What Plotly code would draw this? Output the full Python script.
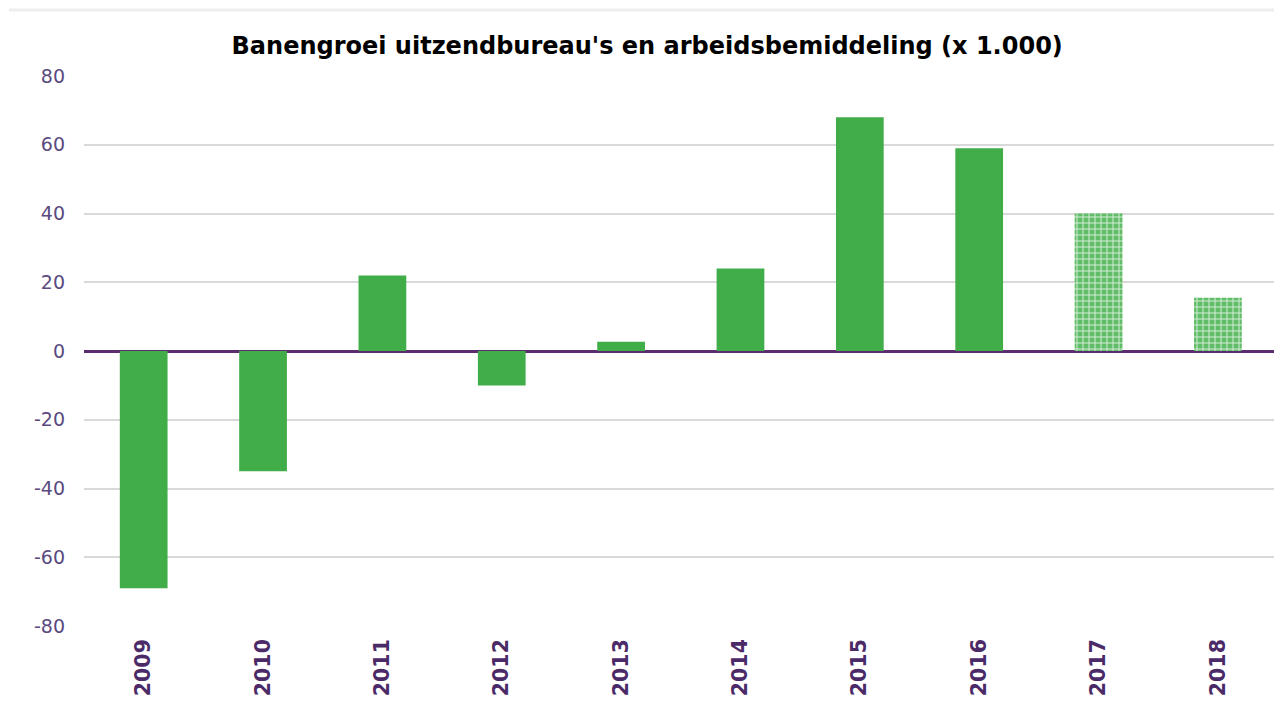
import plotly.graph_objects as go

years = ["2009", "2010", "2011", "2012", "2013", "2014", "2015", "2016", "2017", "2018"]
values = [-69, -35, 22, -10, 2.7, 24, 68, 59, 40, 15.5]
is_forecast = [False, False, False, False, False, False, False, False, True, True]
y_ticks = [-80, -60, -40, -20, 0, 20, 40, 60, 80]
y_tick_labels = ["-80", "-60", "-40", "-20", "0", "20", "40", "60", "80"]

green = "#41ad49"
real_x = [y for y, f in zip(years, is_forecast) if not f]
real_y = [v for v, f in zip(values, is_forecast) if not f]
fc_x = [y for y, f in zip(years, is_forecast) if f]
fc_y = [v for v, f in zip(values, is_forecast) if f]

fig = go.Figure()
fig.add_trace(go.Bar(x=real_x, y=real_y, marker=dict(color=green, line=dict(width=0)),
                     width=0.4, showlegend=False))
fig.add_trace(go.Bar(x=fc_x, y=fc_y, width=0.4, showlegend=False,
                     marker=dict(color="#6cc172", line=dict(width=0),
                                 pattern=dict(shape="+", fgcolor="#d6eed8", bgcolor="#62bd69",
                                              size=6, solidity=0.3, fillmode="replace"))))

fig.update_layout(
    width=1274, height=704,
    margin=dict(l=84, r=0, t=76, b=78),
    paper_bgcolor="white", plot_bgcolor="white",
    barmode="overlay",
    title=dict(text="<b>Banengroei uitzendbureau's en arbeidsbemiddeling (x 1.000)</b>",
               x=0.508, xanchor="center", y=1 - 46 / 704, yanchor="middle",
               font=dict(family="DejaVu Sans", size=24, color="black")),
    font=dict(family="DejaVu Sans"),
    xaxis=dict(type="category", categoryorder="array", categoryarray=years,
               tickangle=-90, tickfont=dict(size=20.5, color="#4b2a68", family="DejaVu Sans", weight="bold"),
               showgrid=False, showline=False, ticks="", range=[-0.5, 9.47],
               ticklabelstandoff=8),
    yaxis=dict(range=[-80, 80], tickvals=y_ticks, ticktext=y_tick_labels,
               tickfont=dict(size=19, color="#5a4a80"), showgrid=True,
               gridcolor="#d9d9d9", gridwidth=2, zeroline=True, zerolinecolor="#5b2d6e",
               zerolinewidth=3, ticks="", ticklabelstandoff=18),
    shapes=[dict(type="line", xref="paper", yref="paper", x0=-0.063, x1=1.0, y0=1.12, y1=1.12,
                 line=dict(color="#eeeeee", width=3))],
)

fig.write_html("out.html", config={"displayModeBar": False},
               post_script="document.body.style.margin='0';")
